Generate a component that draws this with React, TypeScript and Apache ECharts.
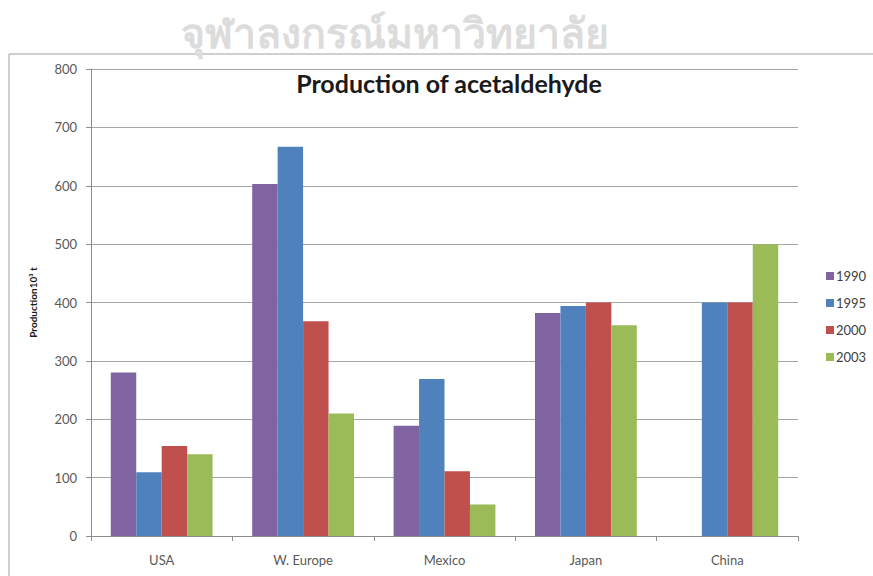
import React, { useEffect, useRef } from "react";
import * as echarts from "echarts";

const categories = ["USA", "W. Europe", "Mexico", "Japan", "China"];
const years = ["1990", "1995", "2000", "2003"];
const values1990 = [280, 603, 189, 382, null];
const values1995 = [109, 667, 269, 394, 400];
const values2000 = [154, 368, 111, 400, 400];
const values2003 = [140, 210, 54, 361, 500];
const colors = ["#8064A2", "#4F81BD", "#C0504D", "#9BBB59"];

const titleText = "Production of acetaldehyde";
const yAxisName = "Production10³ t";
const watermark = "จุฬาลงกรณ์มหาวิทยาลัย";

export default function App() {
  const ref = useRef<HTMLDivElement>(null);
  useEffect(() => {
    if (!ref.current) return;
    const chart = echarts.init(ref.current, undefined, { renderer: "svg" });
    const seriesData = [values1990, values1995, values2000, values2003];
    const font = "Lato, 'Open Sans', sans-serif";
    chart.setOption({
      animation: false,
      textStyle: { fontFamily: font },
      title: {
        text: titleText,
        left: 444,
        top: 65,
        textAlign: "center",
        textStyle: { fontSize: 25, fontWeight: "bold", color: "#1a1a1a", fontFamily: font },
      },
      graphic: [
        {
          type: "rect",
          shape: { x: 9, y: 54, width: 880, height: 540 },
          style: { fill: "none", stroke: "#a0a0a0", lineWidth: 1 },
          silent: true,
        },
        {
          type: "text",
          x: 395,
          y: 32,
          style: {
            text: watermark,
            fill: "#dcdcdc",
            font: "bold 41px 'Noto Sans', 'DejaVu Sans', sans-serif",
            textAlign: "center",
            textVerticalAlign: "middle",
          },
          silent: true,
        },
      ],
      legend: {
        orient: "vertical",
        left: 821,
        top: 264,
        itemWidth: 8,
        itemHeight: 8,
        itemGap: 13,
        icon: "rect",
        data: years,
        textStyle: { fontSize: 13, color: "#404040", lineHeight: 14, padding: [0, 0, 0, -3] },
      },
      grid: { left: 91, right: 75, top: 69, bottom: 40, containLabel: false },
      xAxis: {
        type: "category",
        data: categories,
        boundaryGap: true,
        axisLine: { lineStyle: { color: "#8c8c8c" } },
        axisTick: { show: true, length: 5, lineStyle: { color: "#8c8c8c" } },
        axisLabel: { fontSize: 13, color: "#595959", margin: 17 },
      },
      yAxis: {
        type: "value",
        min: 0,
        max: 800,
        interval: 100,
        name: yAxisName,
        nameLocation: "middle",
        nameRotate: 90,
        nameGap: 53,
        nameTextStyle: { fontSize: 10, fontWeight: "bold", color: "#1a1a1a" },
        axisLine: { show: true, lineStyle: { color: "#8c8c8c" } },
        axisTick: { show: true, length: 5, lineStyle: { color: "#8c8c8c" } },
        axisLabel: { fontSize: 13, color: "#595959", margin: 14 },
        splitLine: { lineStyle: { color: "#a6a6a6", width: 1 } },
      },
      series: years.map((y, i) => ({
        name: y,
        type: "bar",
        data: seriesData[i],
        barGap: "0%",
        barCategoryGap: "28%",
        itemStyle: { color: colors[i] },
      })),
    });
    return () => chart.dispose();
  }, []);
  return <div ref={ref} style={{ width: 873, height: 576, position: "absolute", left: 0, top: 0 }} />;
}
